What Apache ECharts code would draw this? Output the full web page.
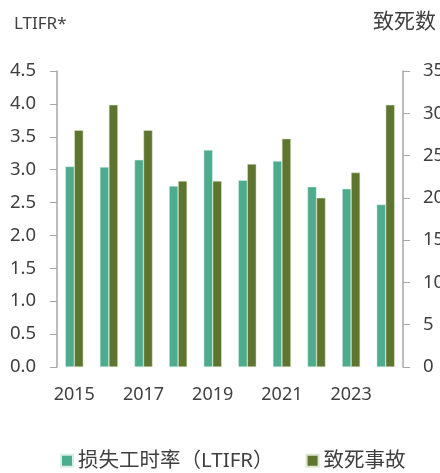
<!DOCTYPE html>
<html>
<head>
<meta charset="utf-8">
<script src="https://cdn.jsdelivr.net/npm/echarts@6/dist/echarts.min.js"></script>
<style>
html, body { margin: 0; padding: 0; background: #fff; }
#chart { width: 440px; height: 473px; }
</style>
</head>
<body>
<div id="chart"></div>
<script>
var years = ['2015', '2016', '2017', '2018', '2019', '2020', '2021', '2022', '2023', '2024'];
var ltifr = [3.05, 3.04, 3.15, 2.75, 3.30, 2.84, 3.13, 2.74, 2.71, 2.47];
var deaths = [28, 31, 28, 22, 22, 24, 27, 20, 23, 31];

var chart = echarts.init(document.getElementById('chart'));
var font = '"Noto Sans", "Noto Sans CJK SC", sans-serif';
var txt = '#404040';
var axisGray = '#A6A6A6';

var option = {
    animation: false,
    textStyle: { fontFamily: font },
    grid: { left: 57, right: 37, top: 71, bottom: 106, outerBoundsMode: 'none', containLabel: false },
    legend: {
        bottom: 2,
        left: 60,
        padding: 0,
        itemWidth: 12,
        itemHeight: 12,
        itemGap: 32,
        icon: 'rect',
        textStyle: { fontSize: 20.5, color: txt, fontFamily: font },
        data: ['损失工时率（LTIFR）', '致死事故']
    },
    xAxis: {
        type: 'category',
        data: years,
        axisLine: { show: false },
        axisTick: { show: false },
        axisLabel: {
            interval: 1,
            fontSize: 18,
            color: txt,
            margin: 19
        }
    },
    yAxis: [
        {
            type: 'value',
            name: 'LTIFR*',
            nameLocation: 'end',
            nameGap: 38,
            nameTextStyle: { fontSize: 17, color: txt, align: 'left', padding: [0, 0, 0, -43] },
            min: 0, max: 4.5, interval: 0.5,
            splitLine: { show: false },
            axisLine: { show: true, lineStyle: { color: axisGray, width: 1.5 } },
            axisTick: { show: true, length: 7, lineStyle: { color: axisGray } },
            axisLabel: {
                fontSize: 18.5,
                color: txt,
                margin: 21,
                formatter: function (v) { return v.toFixed(1); }
            }
        },
        {
            type: 'value',
            name: '致死数',
            nameLocation: 'end',
            nameGap: 38,
            nameTextStyle: { fontSize: 21, color: txt, align: 'left', padding: [0, 0, 0, -30] },
            min: 0, max: 35, interval: 5,
            splitLine: { show: false },
            axisLine: { show: true, lineStyle: { color: axisGray, width: 1.5 } },
            axisTick: { show: true, length: 7, lineStyle: { color: axisGray } },
            axisLabel: { fontSize: 18.5, color: txt, margin: 20 }
        }
    ],
    series: [
        {
            name: '损失工时率（LTIFR）',
            type: 'bar',
            yAxisIndex: 0,
            data: ltifr,
            barWidth: 9,
            barGap: '0%',
            itemStyle: { color: '#4DAB8E', borderColor: '#d8eee6', borderWidth: 0.5 }
        },
        {
            name: '致死事故',
            type: 'bar',
            yAxisIndex: 1,
            data: deaths,
            barWidth: 9,
            barGap: '0%',
            itemStyle: { color: '#5E7530', borderColor: '#dfe6d0', borderWidth: 0.5 }
        }
    ]
};

chart.setOption(option);
</script>
</body>
</html>
